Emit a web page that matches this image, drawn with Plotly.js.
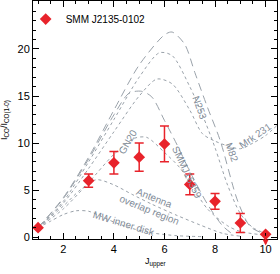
<!DOCTYPE html>
<html><head><meta charset="utf-8">
<script src="https://cdn.plot.ly/plotly-3.0.1.min.js"></script>
<style>html,body{margin:0;padding:0;background:#fff}#chart{width:280px;height:274px}</style>
</head><body><div id="chart"></div>
<script>
// Observed SMM J2135-0102 CO SLED
var obsJ   = [1, 3, 4, 5, 6, 7, 8, 9];
var obsY   = [1.0, 6.0, 7.9, 8.5, 9.9, 5.6, 3.8, 1.5];
var obsErr = [0.0, 0.7, 1.2, 1.5, 1.9, 1.1, 0.85, 1.0];
var limJ = [10];
var limY = [0.3];

// Comparison SLEDs
var m82J = [1, 2, 3, 4, 5, 6, 6.3, 6.8, 7.2, 7.7, 8.2, 8.9, 9.4, 10];
var m82Y = [1, 4.2, 8.5, 13.5, 18.3, 21.5, 21.8, 20.5, 17.5, 13.8, 10.3, 3.8, 1.1, 0.3];
var n253J = [1, 2, 3, 4, 5, 5.8, 6.3, 7, 7.5, 8, 8.5, 9, 9.5, 10];
var n253Y = [1, 3.8, 8, 12.5, 17, 19.6, 19.3, 16, 13, 9.5, 5.5, 2.5, 1, 0.4];
var mrkJ = [1, 2, 3, 4, 5, 5.7, 6.3, 7, 7.5, 8, 9, 9.5, 10, 10.5];
var mrkY = [1, 3.6, 7.3, 11.2, 15, 16.8, 16.3, 13.5, 11, 10.2, 9.4, 10, 10.8, 12];
var smmJ = [1, 2, 3, 4, 4.6, 5.1, 5.5, 6, 6.5, 7, 7.7, 8.3, 8.7];
var smmY = [1, 4.1, 8.3, 13, 15.3, 15.5, 14.9, 12.4, 9.8, 7, 3.5, 1.2, 0.3];
var gn20J = [1, 2, 3, 4, 4.8, 5.3, 6, 6.6, 7, 7.7, 8.5, 9, 10];
var gn20Y = [1, 3, 5.8, 8.8, 10.5, 10.6, 9, 7.4, 5.8, 3, 1.2, 0.6, 0.2];
var antJ = [1, 2, 2.66, 3.3, 3.96, 4.75, 5.5, 6.5, 7.4, 8.3, 9];
var antY = [1, 3.3, 5.0, 6.1, 5.6, 4.5, 3.5, 2.3, 1.3, 0.4, 0.1];
var mwJ = [1, 1.5, 2, 2.5, 3, 3.5, 4, 4.75, 5.5, 6.5, 7.5];
var mwY = [1, 1.7, 2.4, 2.8, 2.75, 2.2, 1.6, 0.9, 0.45, 0.15, 0.05];

var gray = '#9aa2aa';
var tgray = '#7f8b97';
var red = '#e8232b';

function model(x, y, dash) {
  return {x: x, y: y, mode: 'lines', type: 'scatter', showlegend: false, hoverinfo: 'skip',
    line: {color: gray, width: 1, dash: dash, shape: 'spline', smoothing: 0.8}};
}

var traces = [
  model(m82J, m82Y, '8px,5px'),
  model(n253J, n253Y, 'dot'),
  model(mrkJ, mrkY, 'dot'),
  model(smmJ, smmY, '8px,5px'),
  model(gn20J, gn20Y, 'dot'),
  model(antJ, antY, 'dot'),
  model(mwJ, mwY, 'dot'),
  {x: obsJ, y: obsY, type: 'scatter', mode: 'markers', name: 'SMM J2135-0102',
   marker: {symbol: 'diamond', size: 9, color: red},
   error_y: {type: 'data', array: obsErr, visible: true, color: red, thickness: 1.5, width: 4.5}},
  {x: limJ, y: limY, type: 'scatter', mode: 'markers', showlegend: false,
   marker: {symbol: 'diamond', size: 9, color: red}}
];

var lab = {size: 10, color: tgray, family: 'Liberation Sans, Arial, sans-serif'};
function ann(x, y, text, angle) {
  return {x: x, y: y, xref: 'x', yref: 'y', text: text, showarrow: false, textangle: angle, font: lab};
}

var layout = {
  width: 280, height: 274,
  margin: {l: 33, r: 3, t: 1, b: 35},
  paper_bgcolor: '#fff', plot_bgcolor: '#fff',
  font: {family: 'Liberation Sans, Arial, sans-serif', color: '#000', size: 11},
  showlegend: true,
  legend: {x: -0.03, y: 0.985, xanchor: 'left', yanchor: 'top', bgcolor: 'rgba(0,0,0,0)',
           font: {size: 10, color: '#000'}, itemwidth: 30, tracegroupgap: 0},
  xaxis: {range: [0.8, 10.45], showgrid: false, zeroline: false, showline: true, linecolor: '#000', linewidth: 1,
          mirror: 'ticks', ticks: 'inside', ticklen: 6, tickcolor: '#000', tickvals: [2, 4, 6, 8, 10],
          minor: {dtick: 0.5, ticks: 'inside', ticklen: 3, tickcolor: '#000'},
          tickfont: {size: 11}},
  yaxis: {range: [-0.2, 25.1], showgrid: false, zeroline: false, showline: true, linecolor: '#000', linewidth: 1,
          mirror: 'ticks', ticks: 'inside', ticklen: 6, tickcolor: '#000', dtick: 5,
          minor: {dtick: 1, ticks: 'inside', ticklen: 3, tickcolor: '#000'},
          tickfont: {size: 11}},
  annotations: [
    ann(7.4, 13.8, 'N253', 70),
    ann(8.67, 9.0, 'M82', 70),
    ann(9.6, 10.8, 'Mrk 231', -35),
    ann(6.9, 6.9, 'SMMJ16359', 65),
    ann(4.55, 10.2, 'GN20', -60),
    ann(5.5, 3.5, 'Antenna<br>overlap region', 22),
    ann(4.4, 1.5, 'MW inner disk', 17),
    {x: 10, y: -0.9, ax: 10, ay: 0.3, xref: 'x', yref: 'y', axref: 'x', ayref: 'y', text: '',
     showarrow: true, arrowhead: 2, arrowsize: 0.8, arrowwidth: 1.5, arrowcolor: red},
    {x: 0.5, y: -0.095, xref: 'paper', yref: 'paper', xanchor: 'center', yanchor: 'middle', showarrow: false,
     text: 'J<sub>upper</sub>', font: {size: 9, color: '#000'}},
    {x: -0.115, y: 0.5, xref: 'paper', yref: 'paper', xanchor: 'center', yanchor: 'middle', showarrow: false,
     textangle: -90, text: 'I<sub>CO</sub>/I<sub>CO(1-0)</sub>', font: {size: 9, color: '#000'}}
  ]
};

Plotly.newPlot('chart', traces, layout, {displayModeBar: false, staticPlot: true});
</script></body></html>
